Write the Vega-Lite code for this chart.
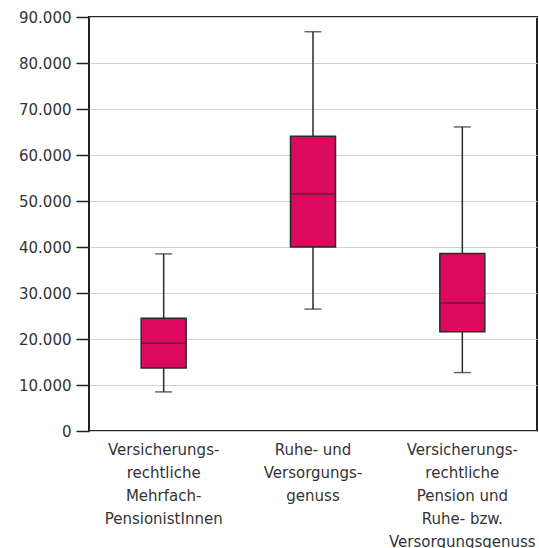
{
  "$schema": "https://vega.github.io/schema/vega-lite/v6.json",
  "autosize": "none",
  "width": 448,
  "height": 414,
  "padding": {"left": 89, "top": 17, "right": 2, "bottom": 117},
  "background": "white",
  "config": {
    "font": "DejaVu Sans",
    "view": {"stroke": "#222222", "strokeWidth": 2},
    "axis": {"labelFont": "DejaVu Sans", "labelFontSize": 15, "labelColor": "#333333"}
  },
  "data": {
    "values": [
      {"kategorie": "Versicherungs-|rechtliche|Mehrfach-|PensionistInnen", "min": 8500, "q1": 13700, "median": 19100, "q3": 24500, "max": 38500},
      {"kategorie": "Ruhe- und|Versorgungs-|genuss", "min": 26500, "q1": 40000, "median": 51500, "q3": 64100, "max": 86800},
      {"kategorie": "Versicherungs-|rechtliche|Pension und|Ruhe- bzw.|Versorgungsgenuss", "min": 12700, "q1": 21600, "median": 27800, "q3": 38600, "max": 66100}
    ]
  },
  "encoding": {
    "x": {
      "field": "kategorie",
      "type": "nominal",
      "sort": null,
      "title": null,
      "axis": {
        "labelAngle": 0,
        "labelExpr": "split(datum.label, '|')",
        "labelLineHeight": 23,
        "labelPadding": 11,
        "ticks": false,
        "domain": false,
        "labelLimit": 300
      }
    }
  },
  "layer": [
    {
      "mark": {"type": "rule", "stroke": "#2a2a2a", "strokeWidth": 1.5},
      "encoding": {
        "y": {
          "field": "min",
          "type": "quantitative",
          "scale": {"domain": [0, 90000], "nice": false},
          "title": null,
          "axis": {
            "values": [0, 10000, 20000, 30000, 40000, 50000, 60000, 70000, 80000, 90000],
            "labelExpr": "replace(format(datum.value, ','), ',', '.')",
            "grid": true,
            "gridColor": "#d0d0d0",
            "gridWidth": 1,
            "domain": false,
            "tickColor": "#222222",
            "tickWidth": 1.5,
            "tickSize": 13,
            "labelPadding": 5
          }
        },
        "y2": {"field": "max"}
      }
    },
    {
      "mark": {"type": "tick", "color": "#2a2a2a", "size": 17, "thickness": 1.5},
      "encoding": {"y": {"field": "min", "type": "quantitative"}}
    },
    {
      "mark": {"type": "tick", "color": "#2a2a2a", "size": 17, "thickness": 1.5},
      "encoding": {"y": {"field": "max", "type": "quantitative"}}
    },
    {
      "mark": {"type": "bar", "size": 45, "fill": "#DB0A5E", "stroke": "#2a2a2a", "strokeWidth": 1.5},
      "encoding": {
        "y": {"field": "q1", "type": "quantitative"},
        "y2": {"field": "q3"}
      }
    },
    {
      "mark": {"type": "tick", "color": "#2a2a2a", "size": 45, "thickness": 1.5},
      "encoding": {"y": {"field": "median", "type": "quantitative"}}
    }
  ]
}
